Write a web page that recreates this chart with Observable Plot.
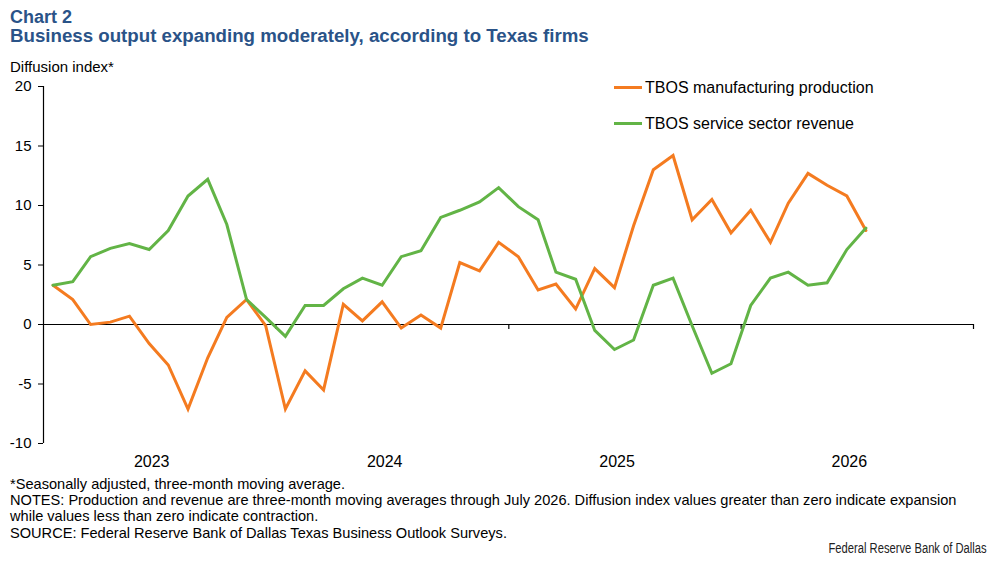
<!DOCTYPE html>
<html><head><meta charset="utf-8">
<script src="https://cdn.jsdelivr.net/npm/d3@7"></script>
<script src="https://cdn.jsdelivr.net/npm/@observablehq/plot@0.6"></script>
<style>
body{margin:0;background:#fff;}
#wrap{position:relative;width:996px;height:565px;font-family:"Liberation Sans",Arial,sans-serif;color:#000;overflow:hidden;background:#fff}
.abs{position:absolute;white-space:nowrap}
#t1{left:10px;top:7.5px;font-size:18px;line-height:18px;font-weight:bold;color:#2a5388}
#t2{left:10px;top:27.2px;font-size:18.7px;line-height:18.7px;font-weight:bold;color:#2a5388}
#ylab{left:10px;top:59px;font-size:15px;line-height:15px}
#chart{position:absolute;left:0;top:76px}
.leg{position:absolute;left:614px;font-size:16px;line-height:16px;white-space:nowrap}
.leg .sw{position:absolute;left:0;width:28px;height:3px;top:6px}
.leg .tx{position:absolute;left:31px;top:0}
#notes{left:10px;top:476px;font-size:14.6px;line-height:16.2px}
#brand{right:9px;top:541px;font-size:14px;line-height:14px;color:#222;transform:scaleX(0.8);transform-origin:right center}
</style></head><body>
<div id="wrap">
  <div class="abs" id="t1">Chart 2</div>
  <div class="abs" id="t2">Business output expanding moderately, according to Texas firms</div>
  <div class="abs" id="ylab">Diffusion index*</div>
  <div id="chart"></div>
  <div id="legend"></div>
  <div class="abs" id="notes"></div>
  <div class="abs" id="brand">Federal Reserve Bank of Dallas</div>
</div>
<script>
const months = [
  "2023-01","2023-02","2023-03","2023-04","2023-05","2023-06","2023-07","2023-08","2023-09","2023-10","2023-11","2023-12",
  "2024-01","2024-02","2024-03","2024-04","2024-05","2024-06","2024-07","2024-08","2024-09","2024-10","2024-11","2024-12",
  "2025-01","2025-02","2025-03","2025-04","2025-05","2025-06","2025-07","2025-08","2025-09","2025-10","2025-11","2025-12",
  "2026-01","2026-02","2026-03","2026-04","2026-05","2026-06","2026-07"
];
const manufacturing = [
  3.3, 2.1, 0.0, 0.2, 0.7, -1.6, -3.4, -7.1, -2.8, 0.6, 2.1, -0.1,
  -7.1, -3.9, -5.5, 1.7, 0.3, 1.9, -0.3, 0.8, -0.3, 5.2, 4.5, 6.9,
  5.7, 2.9, 3.4, 1.3, 4.7, 3.1, 8.3, 13.0, 14.2, 8.8, 10.5, 7.7,
  9.6, 6.9, 10.2, 12.7, 11.7, 10.8, 7.9
];
const services = [
  3.3, 3.6, 5.7, 6.4, 6.8, 6.3, 7.9, 10.8, 12.2, 8.4, 2.1, 0.6,
  -1.0, 1.6, 1.6, 3.0, 3.9, 3.3, 5.7, 6.2, 9.0, 9.6, 10.3, 11.5,
  9.9, 8.8, 4.4, 3.8, -0.5, -2.1, -1.3, 3.3, 3.9, -0.1, -4.1, -3.3,
  1.6, 3.9, 4.4, 3.3, 3.5, 6.3, 8.1
];
const seriesNames = ["TBOS manufacturing production", "TBOS service sector revenue"];
const seriesColors = ["#f47b20", "#62b446"];
const yTicks = [-10, -5, 0, 5, 10, 15, 20];
const yearLabels = ["2023", "2024", "2025", "2026"];
const yearBoundaries = ["2024-01-01", "2025-01-01", "2026-01-01", "2027-01-01"];
const xDomain = ["2023-01-01", "2027-01-01"];
const yDomain = [-10, 20];
const footnotes = [
  "*Seasonally adjusted, three-month moving average.",
  "NOTES: Production and revenue are three-month moving averages through July 2026. Diffusion index values greater than zero indicate expansion",
  "while values less than zero indicate contraction.",
  "SOURCE: Federal Reserve Bank of Dallas Texas Business Outlook Surveys."
];

const parseM = d3.utcParse("%Y-%m");
const parseD = d3.utcParse("%Y-%m-%d");
const midMonth = m => d3.utcDay.offset(parseM(m), 15);
const rowsMfg = months.map((m, i) => ({date: midMonth(m), value: manufacturing[i]}));
const rowsSvc = months.map((m, i) => ({date: midMonth(m), value: services[i]}));
const labelDates = yearLabels.map(y => parseD(y + "-07-01"));
const boundaryDates = yearBoundaries.map(parseD);

const chart = Plot.plot({
  width: 996, height: 400,
  marginLeft: 43, marginRight: 23, marginTop: 10, marginBottom: 33,
  x: {type: "utc", domain: xDomain.map(parseD)},
  y: {domain: yDomain},
  style: {fontFamily: '"Liberation Sans", Arial, sans-serif', fontSize: "15px", color: "#000", background: "#fff", overflow: "visible"},
  marks: [
    Plot.axisY({ticks: yTicks, tickSize: 5, tickPadding: 7, label: null, fontSize: 15, tickFormat: d => String(d)}),
    Plot.axisX({ticks: labelDates, tickSize: 0, tickPadding: 12, label: null, fontSize: 16, dx: -7, tickFormat: d3.utcFormat("%Y")}),
    Plot.ruleX([parseD(xDomain[0])], {y1: yDomain[0], y2: yDomain[1], stroke: "#000", strokeWidth: 1.2}),
    Plot.ruleY([0], {stroke: "#000", strokeWidth: 1.2}),
    Plot.ruleX(boundaryDates, {y1: 0, y2: -0.42, stroke: "#000", strokeWidth: 1.2}),
    Plot.line(rowsMfg, {x: "date", y: "value", stroke: seriesColors[0], strokeWidth: 3, strokeLinejoin: "miter", strokeMiterlimit: 3}),
    Plot.line(rowsSvc, {x: "date", y: "value", stroke: seriesColors[1], strokeWidth: 3, strokeLinejoin: "miter", strokeMiterlimit: 3})
  ]
});
document.getElementById("chart").appendChild(chart);

const legendTops = [79.8, 115.8];
const legend = document.getElementById("legend");
seriesNames.forEach((name, i) => {
  const row = document.createElement("div");
  row.className = "leg";
  row.style.top = legendTops[i] + "px";
  row.innerHTML = `<span class="sw" style="background:${seriesColors[i]}"></span><span class="tx">${name}</span>`;
  legend.appendChild(row);
});

document.getElementById("notes").innerHTML = footnotes.map(t => `<div>${t}</div>`).join("");
</script>
</body></html>
